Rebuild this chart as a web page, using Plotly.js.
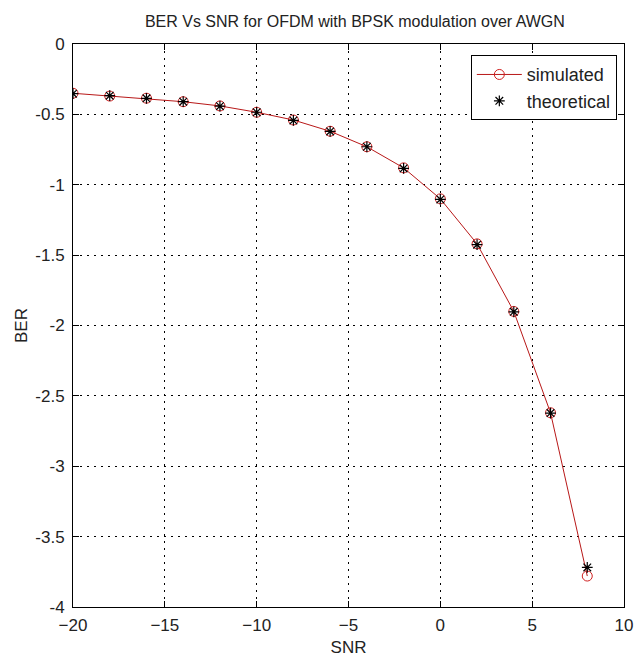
<!DOCTYPE html>
<html>
<head>
<meta charset="utf-8">
<script src="https://cdn.plot.ly/plotly-3.0.1.min.js"></script>
<style>
html,body{margin:0;padding:0;background:#fff;}
#chart{width:636px;height:662px;}
</style>
</head>
<body>
<div id="chart"></div>
<script>
const snr = [-20, -18, -16, -14, -12, -10, -8, -6, -4, -2, 0, 2, 4, 6, 8];
const simulated = [-0.35, -0.37, -0.385, -0.41, -0.44, -0.485, -0.54, -0.62, -0.73, -0.88, -1.10, -1.42, -1.90, -2.62, -3.78];
const theoretical = [-0.353, -0.367, -0.386, -0.410, -0.442, -0.485, -0.543, -0.621, -0.730, -0.884, -1.104, -1.426, -1.903, -2.622, -3.719];
const xTicks = [-20, -15, -10, -5, 0, 5, 10];
const yTicks = [0, -0.5, -1, -1.5, -2, -2.5, -3, -3.5, -4];
const yTickText = ['0', '-0.5', '-1', '-1.5', '-2', '-2.5', '-3', '-3.5', '-4'];

const FONT = 'Liberation Sans Narrow, Arial Narrow, Liberation Sans, Arial, sans-serif';

const traces = [
  {
    x: snr, y: simulated, name: 'simulated',
    mode: 'lines+markers', type: 'scatter',
    line: {color: '#b81818', width: 1},
    marker: {symbol: 'circle-open', size: 10, color: '#d02020', line: {width: 1, color: '#d02020'}}
  },
  {
    x: snr, y: theoretical, name: 'theoretical',
    mode: 'markers', type: 'scatter',
    marker: {symbol: 'asterisk-open', size: 9, color: '#000', line: {width: 1.2, color: '#000'}}
  }
];

const axisCommon = {
  showline: true, linecolor: '#000', linewidth: 1, mirror: 'ticks',
  ticks: 'inside', ticklen: 6, tickcolor: '#000', tickwidth: 1,
  showgrid: true, gridcolor: '#000', gridwidth: 1, griddash: '2px,5px',
  zeroline: false, automargin: false,
  tickfont: {family: FONT, size: 17, color: '#222'}
};

const layout = {
  width: 636, height: 662,
  margin: {l: 73, r: 12, t: 44, b: 55},
  paper_bgcolor: '#fff', plot_bgcolor: '#fff',
  font: {family: FONT, color: '#222'},
  title: {
    text: 'BER Vs SNR for OFDM with BPSK modulation over AWGN',
    font: {family: FONT, size: 16, color: '#222'},
    x: 0.558, xanchor: 'center', y: 0.968, yanchor: 'middle'
  },
  xaxis: Object.assign({}, axisCommon, {
    range: [-20, 10], tickmode: 'array', tickvals: xTicks,
    ticklabelstandoff: 3,
    title: {text: 'SNR', font: {family: FONT, size: 17, color: '#222'}, standoff: 6}
  }),
  yaxis: Object.assign({}, axisCommon, {
    range: [-4, 0], tickmode: 'array', tickvals: yTicks, ticktext: yTickText,
    ticklabelstandoff: 4,
    title: {text: 'BER', font: {family: FONT, size: 17, color: '#222'}, standoff: 3}
  }),
  legend: {
    x: 0.987, xanchor: 'right', y: 0.98, yanchor: 'top',
    bgcolor: '#fff', bordercolor: '#000', borderwidth: 1,
    font: {family: FONT, size: 18, color: '#222'},
    itemwidth: 45,
    tracegroupgap: 0
  },
  showlegend: true
};

Plotly.newPlot('chart', traces, layout, {staticPlot: true, displayModeBar: false});
</script>
</body>
</html>
